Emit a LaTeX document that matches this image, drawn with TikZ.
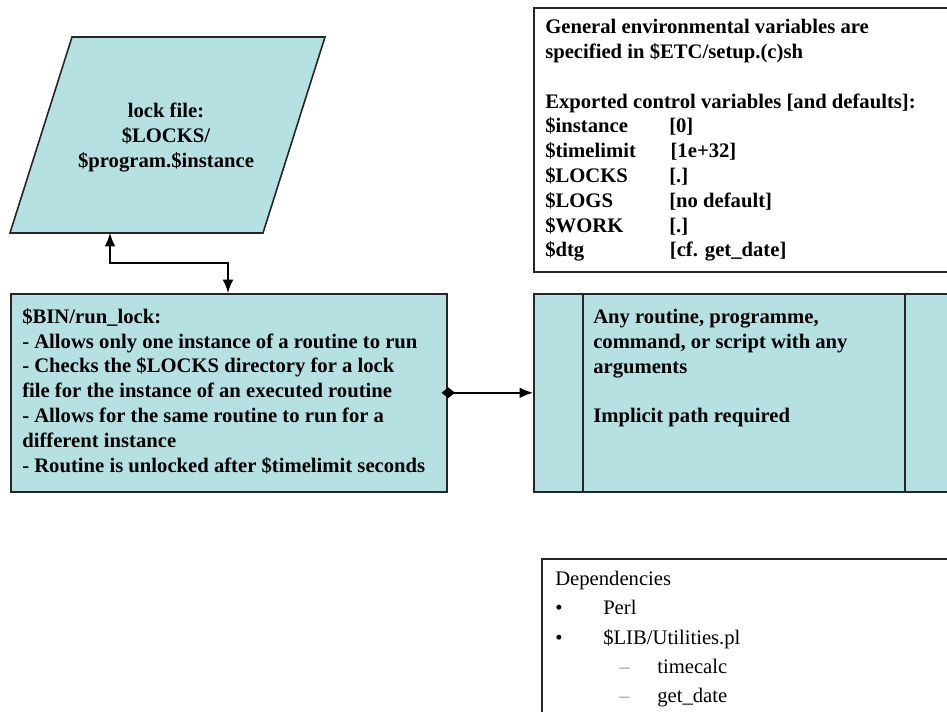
\documentclass[tikz,border=0pt]{standalone}
\usepackage{fontspec}
\setmainfont{Liberation Serif}[BoldFont={Liberation Serif Bold},ItalicFont={Liberation Serif Italic}]
\usetikzlibrary{arrows.meta,positioning,calc}
\definecolor{boxcyan}{RGB}{182,225,227}
\definecolor{dashgrey}{RGB}{150,150,150}

\begin{document}
\begin{tikzpicture}[x=0.75pt,y=-0.75pt,
    fillbox/.style={draw=black!85,fill=boxcyan,line width=1.2pt,inner sep=0pt},
    plainbox/.style={draw=black!85,line width=1.2pt,inner sep=0pt},
    boldtxt/.style={anchor=north west,align=left,inner sep=0pt,font=\fontsize{15.5}{18.6}\selectfont\bfseries},
    link/.style={line width=1.1pt,-{Latex[length=10pt,width=8pt]}}]
  \useasboundingbox (0,0) rectangle (947,712);
  \clip (0,0) rectangle (947,712);

  % lock file
  \draw[fillbox] (72,37) -- (325,37) -- (263,233) -- (10,233) -- cycle;
  \node[align=center,font=\fontsize{15.5}{18.8}\selectfont\bfseries] (lock) at (166,137.5)
    {lock file:\\\$LOCKS/\\\$program.\$instance};
  \coordinate (lockfoot) at (110,233);

  % environment box
  \node[plainbox,anchor=north west,minimum width=350pt,minimum height=198pt] (env) at (533,7) {};
  \node[boldtxt] (envtxt) at (545,19) {General environmental variables are\\
    specified in \$ETC/setup.(c)sh\\[18.6pt]
    Exported control variables [and defaults]:\\
    \makebox[93pt][l]{\$instance}[0]\\
    \makebox[94pt][l]{\$timelimit}[1e+32]\\
    \makebox[93pt][l]{\$LOCKS}[.]\\
    \makebox[93pt][l]{\$LOGS}[no default]\\
    \makebox[93pt][l]{\$WORK}[.]\\
    \makebox[93.5pt][l]{\$dtg}[cf. get\_date]};

  % run_lock box
  \node[fillbox,anchor=north west,minimum width=327pt,minimum height=148.5pt] (run) at (10,293) {};
  \node[boldtxt] (runtxt) at (22,308) {\$BIN/run\_lock:\\
    - Allows only one instance of a routine to run\\
    - Checks the \$LOCKS directory for a lock\\
    file for the instance of an executed routine\\
    - Allows for the same routine to run for a\\
    different instance\\
    - Routine is unlocked after \$timelimit seconds};
  \coordinate (runtop) at (228,293);

  % command box
  \node[fillbox,anchor=north west,minimum width=350pt,minimum height=148.5pt] (cmd) at (533,293) {};
  \draw[line width=1.2pt,draw=black!85] ($(cmd.north west)+(50,0)$) -- ($(cmd.south west)+(50,0)$);
  \draw[line width=1.2pt,draw=black!85] ($(cmd.north west)+(372,0)$) -- ($(cmd.south west)+(372,0)$);
  \node[boldtxt] (cmdtxt) at (593,309) {Any routine, programme,\\
    command, or script with any\\
    arguments\\[18.6pt]
    Implicit path required};

  % dependencies
  \node[plainbox,anchor=north west,minimum width=350pt,minimum height=150pt] (deps) at (541,558) {};
  \node[anchor=north west,align=left,inner sep=0pt,font=\fontsize{15.5}{22}\selectfont] (depstxt) at (555,571)
    {Dependencies\\
    \makebox[36pt][l]{\textbullet}Perl\\
    \makebox[36pt][l]{\textbullet}\$LIB/Utilities.pl\\
    \hspace{48pt}\makebox[28.5pt][l]{\textcolor{dashgrey}{--}}timecalc\\
    \hspace{48pt}\makebox[28.5pt][l]{\textcolor{dashgrey}{--}}get\_date};

  % connectors
  \draw[link,{Latex[length=10pt,width=8pt]}-{Latex[length=10pt,width=8pt]}]
    (lockfoot) -- ++(0,30) -| (runtop);
  \draw[link,{Diamond[length=10pt,width=8pt]}-{Latex[length=10pt,width=8pt]}]
    ($(run.east)+(-6,0)$) -- (cmd.west);
\end{tikzpicture}
\end{document}
